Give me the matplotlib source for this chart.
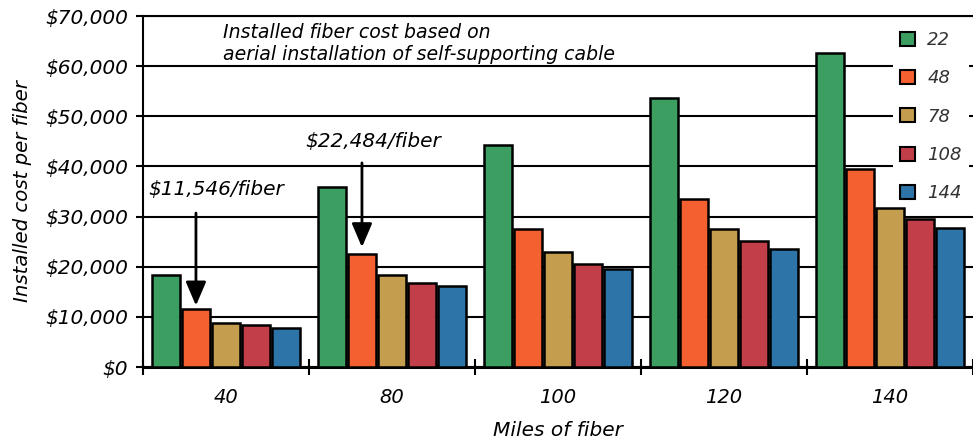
import matplotlib
matplotlib.use("Agg")
import matplotlib.pyplot as plt
from matplotlib.patches import Patch
from matplotlib.ticker import FuncFormatter, FixedLocator
import numpy as np

plt.rcParams["font.family"] = ["DejaVu Sans"]
plt.rcParams["font.style"] = "italic"

# Miles of fiber (categories) and fiber counts per cable (series)
miles = ["40", "80", "100", "120", "140"]
fiber_counts = ["22", "48", "78", "108", "144"]

cost_22 = [18300, 35800, 44300, 53600, 62600]
cost_48 = [11546, 22484, 27600, 33500, 39400]
cost_78 = [8800, 18300, 23000, 27600, 31800]
cost_108 = [8400, 16700, 20600, 25100, 29600]
cost_144 = [7800, 16200, 19600, 23500, 27800]

series = [cost_22, cost_48, cost_78, cost_108, cost_144]
colors = ["#3d9e62", "#f4602f", "#c49d4e", "#c23f4a", "#2d74a8"]

fig = plt.figure(figsize=(9.73, 4.42), dpi=100)
ax_l, ax_r, ax_t, ax_b = 143, 973, 16, 367
ax = fig.add_axes([ax_l / 973, 1 - ax_b / 442, (ax_r - ax_l) / 973, (ax_b - ax_t) / 442])

x = np.arange(len(miles))
pitch = 0.181
width = 0.165
for i, (vals, col) in enumerate(zip(series, colors)):
    ax.bar(x + (i - 2) * pitch, vals, width=width, color=col,
           edgecolor="black", linewidth=1.8, zorder=3)

ax.set_xlim(-0.5, len(miles) - 0.5)
ax.set_ylim(0, 70000)
ax.set_yticks(np.arange(0, 70001, 10000))
ax.yaxis.set_major_formatter(FuncFormatter(lambda v, p: f"${v:,.0f}"))
ax.yaxis.grid(True, color="black", linewidth=1.5, zorder=1)

ax.set_xticks(x)
ax.set_xticklabels(miles)
ax.xaxis.set_minor_locator(FixedLocator(np.arange(-0.5, len(miles), 1.0)))
ax.tick_params(axis="x", which="major", length=0, pad=15, labelsize=14)
ax.tick_params(axis="x", which="minor", direction="inout", length=12, width=1.5)
ax.tick_params(axis="y", length=5, width=1.5, pad=6, labelsize=14.5)

ax.spines["right"].set_visible(False)
ax.spines["left"].set_linewidth(1.5)
ax.spines["bottom"].set_linewidth(2.2)
ax.spines["top"].set_linewidth(1.5)

ax.set_xlabel("Miles of fiber", fontsize=14.5)
ax.xaxis.set_label_coords(0.5, -(431 - ax_b) / (ax_b - ax_t))
ax.xaxis.label.set_va("center")
ax.set_ylabel("Installed cost per fiber", fontsize=14.2, labelpad=9)

ax.text(-0.018, 66700, "Installed fiber cost based on", fontsize=13.6,
        va="center", ha="left", zorder=5)
ax.text(-0.018, 62300, "aerial installation of self-supporting cable",
        fontsize=13.6, va="center", ha="left", zorder=5)

arrow = dict(arrowstyle="-|>,head_length=1.45,head_width=0.62",
             color="black", linewidth=2, shrinkA=0, shrinkB=0)
ax.text(-0.47, 35300, f"${cost_48[0]:,}/fiber", fontsize=14.5,
        va="center", ha="left", zorder=5)
ax.annotate("", xy=(x[0] - pitch, cost_48[0] + 700),
            xytext=(x[0] - pitch, 30700), arrowprops=arrow, zorder=5)
ax.text(0.476, 44900, f"${cost_48[1]:,}/fiber", fontsize=14.5,
        va="center", ha="left", zorder=5)
ax.annotate("", xy=(x[1] - pitch, cost_48[1] + 1400),
            xytext=(x[1] - pitch, 40700), arrowprops=arrow, zorder=5)

handles = [Patch(facecolor=c, edgecolor="black", linewidth=1.5) for c in colors]
leg = ax.legend(handles, fiber_counts, loc="upper left",
                bbox_to_anchor=((893 - ax_l) / (ax_r - ax_l), 1 - (24 - ax_t) / (ax_b - ax_t)),
                bbox_transform=ax.transAxes,
                frameon=True, framealpha=1, facecolor="white", edgecolor="none",
                fancybox=False, fontsize=13, handlelength=0.83, handleheight=0.83,
                handletextpad=0.67, labelspacing=1.12, borderaxespad=0,
                borderpad=0.4)
# legend sits above the gridlines but beneath the bars
leg.set_zorder(2)
for t in leg.get_texts():
    t.set_color("#333333")

fig.savefig("out.png", dpi=100)
